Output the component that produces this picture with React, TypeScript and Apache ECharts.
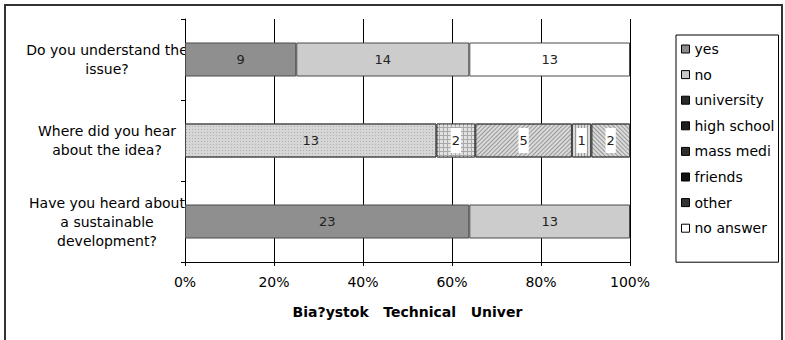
import React, { useEffect, useRef } from "react";
import * as echarts from "echarts";

const categories = [
  "Do you understand the\nissue?",
  "Where did you hear\nabout the idea?",
  "Have you heard about\na sustainable\ndevelopment?",
];
const seriesNames = ["yes", "no", "university", "high school", "mass media", "friends", "other", "no answer"];
const yesCounts = [9, null, 23];
const noCounts = [14, null, 13];
const universityCounts = [null, 13, null];
const highSchoolCounts = [null, 2, null];
const massMediaCounts = [null, 5, null];
const friendsCounts = [null, 1, null];
const otherCounts = [null, 2, null];
const noAnswerCounts = [13, null, null];
const xTicks = [0, 20, 40, 60, 80, 100];
const axisTitle = "Bia?ystok   Technical   Univer";

const FONT = "DejaVu Sans";

export default function App() {
  const ref = useRef<HTMLDivElement>(null);
  useEffect(() => {
    document.body.style.margin = "0";
    const chart = echarts.init(ref.current!, null, { renderer: "svg" });
    const all = [yesCounts, noCounts, universityCounts, highSchoolCounts, massMediaCounts, friendsCounts, otherCounts, noAnswerCounts];
    const totals = categories.map((_, i) => all.reduce((s, arr) => s + (arr[i] || 0), 0));

    const styles: any[] = [
      { color: "#8f8f8f" },
      { color: "#cccccc" },
      {
        color: "#d6d6d6",
        decal: { symbol: "rect", symbolSize: 1, color: "rgba(0,0,0,0.18)", dashArrayX: [1, 2], dashArrayY: [1, 2], rotation: 0 },
      },
      {
        color: "#a8a8a8",
        decal: { symbol: "rect", symbolSize: 1, color: "#e2e2e2", dashArrayX: [3, 1], dashArrayY: [3, 1], rotation: 0 },
      },
      {
        color: "#dadada",
        decal: { symbol: "rect", symbolSize: 1, color: "rgba(0,0,0,0.3)", dashArrayX: [1, 0], dashArrayY: [1, 2], rotation: -Math.PI / 4 },
      },
      {
        color: "#dadada",
        decal: { symbol: "rect", symbolSize: 1, color: "rgba(0,0,0,0.3)", dashArrayX: [1, 0], dashArrayY: [1, 2], rotation: Math.PI / 2 },
      },
      {
        color: "#dadada",
        decal: { symbol: "rect", symbolSize: 1, color: "rgba(0,0,0,0.3)", dashArrayX: [1, 0], dashArrayY: [1, 2], rotation: Math.PI / 4 },
      },
      { color: "#ffffff" },
    ];
    const legendColors = ["#8c8c8c", "#c8c8c8", "#2a2a2a", "#1e1e1e", "#2e2e2e", "#111111", "#333333", "#ffffff"];
    const whiteBg = [false, false, false, true, true, true, true, false];

    const series = all.map((arr, si) => ({
      name: seriesNames[si],
      type: "bar",
      stack: "total",
      barWidth: 34,
      itemStyle: { ...styles[si], borderColor: "#4a4a4a", borderWidth: 1 },
      label: {
        show: true,
        position: "inside",
        color: "#222",
        fontSize: 13,
        fontFamily: FONT,
        formatter: (p: any) => String(p.data.raw),
        ...(whiteBg[si] ? { backgroundColor: "#ffffff", padding: [6, 1] } : {}),
      },
      data: arr.map((v, i) => (v == null ? "-" : { value: (v / totals[i]) * 100, raw: v })),
    }));

    chart.setOption({
      animation: false,
      backgroundColor: "#ffffff",
      textStyle: { fontFamily: FONT },
      grid: { left: 185, right: 155, top: 19, bottom: 78 },
      legend: {
        orient: "vertical",
        left: 676,
        top: 35,
        padding: [6, 3, 26, 5],
        borderColor: "#000",
        borderWidth: 1,
        itemWidth: 8,
        itemHeight: 8,
        itemGap: 9.6,
        icon: "rect",
        selectedMode: false,
        textStyle: { fontFamily: FONT, fontSize: 14, color: "#000", lineHeight: 16, width: 81, overflow: "truncate", ellipsis: "" },
        data: seriesNames.map((n, i) => ({
          name: n,
          itemStyle: { color: legendColors[i], borderColor: "#000", borderWidth: 1, decal: "none" },
        })),
      },
      xAxis: {
        type: "value",
        min: xTicks[0],
        max: xTicks[xTicks.length - 1],
        interval: 20,
        axisLine: { show: true, lineStyle: { color: "#000", width: 1 } },
        axisTick: { show: true, length: 4, lineStyle: { color: "#000" } },
        splitLine: { show: true, lineStyle: { color: "#000", width: 1 } },
        axisLabel: { formatter: "{value}%", fontSize: 14, color: "#000", fontFamily: FONT, margin: 13 },
        name: axisTitle,
        nameLocation: "middle",
        nameGap: 43,
        nameTextStyle: { fontSize: 14, fontWeight: "bold", color: "#000", fontFamily: FONT },
      },
      yAxis: {
        type: "category",
        inverse: true,
        data: categories,
        axisLine: { show: true, lineStyle: { color: "#000", width: 1 } },
        axisTick: { show: true, length: 4, lineStyle: { color: "#000" } },
        axisLabel: { fontSize: 14, color: "#000", fontFamily: FONT, lineHeight: 19, align: "center", margin: 78 },
      },
      graphic: [
        {
          type: "rect",
          shape: { x: 5, y: 5, width: 777, height: 400 },
          style: { fill: "none", stroke: "#333", lineWidth: 2 },
          silent: true,
          z: 100,
        },
      ],
      series,
    });
    return () => chart.dispose();
  }, []);
  return <div ref={ref} style={{ width: 785, height: 340 }} />;
}
